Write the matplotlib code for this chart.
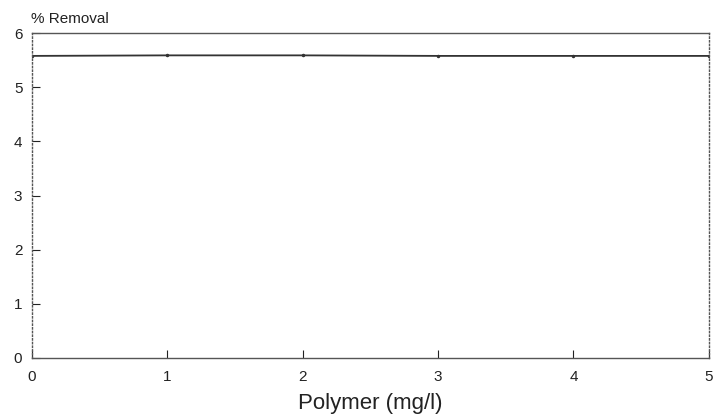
import matplotlib.pyplot as plt

plt.rcParams['font.family'] = ['Liberation Sans', 'DejaVu Sans']

polymer = [0, 1, 2, 3, 4, 5]
removal = [5.58, 5.59, 5.59, 5.58, 5.58, 5.58]

fig = plt.figure(figsize=(7.13, 4.2), dpi=100)
ax = fig.add_axes([0.045, 0.148, 0.949, 0.773])

ax.plot(polymer, removal, color='#333333', lw=1.3, marker='.', markersize=3)

ax.set_xlim(0, 5)
ax.set_ylim(0, 6)
ax.set_xticks(range(6))
ax.set_yticks(range(7))
ax.tick_params(direction='in', length=6, labelsize=11, colors='#222222')
ax.tick_params(axis='x', pad=9)
ax.tick_params(axis='y', pad=7)
for s in ax.spines.values():
    s.set_color('#555555')
    s.set_linewidth(1.0)
ax.spines['right'].set_linestyle(':')
ax.spines['left'].set_linestyle(':')

ax.set_xlabel('Polymer (mg/l)', fontsize=16, color='#222222', labelpad=6)
fig.text(0.043, 0.945, '% Removal', fontsize=11, color='#222222')

fig.savefig('out.png', dpi=100)
